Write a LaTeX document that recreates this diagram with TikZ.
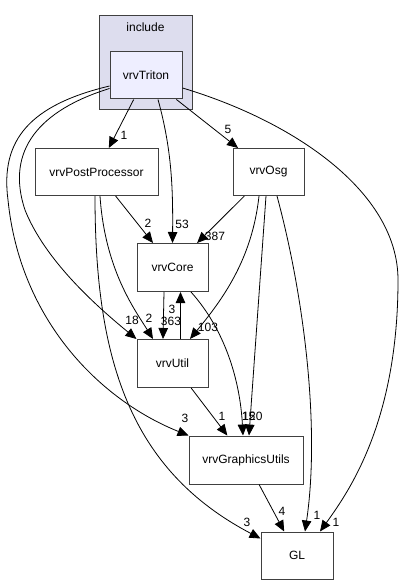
\documentclass[tikz,border=0pt]{standalone}
\usepackage{fontspec}
\setmainfont{Liberation Sans}
\usetikzlibrary{arrows.meta}
\definecolor{clusterfill}{HTML}{DDDDEE}
\definecolor{dirfill}{HTML}{EEEEFF}
\definecolor{boxline}{HTML}{404040}
\tikzset{
  dirbox/.style={draw=boxline, line width=1pt, fill=white, inner sep=0pt,
    minimum width=71pt, minimum height=47pt, font=\fontsize{12}{14}\selectfont},
  dep/.style={draw=black, line width=0.8pt, -{Triangle[length=11pt,width=9.5pt]}},
  cnt/.style={font=\fontsize{12}{14}\selectfont, inner sep=0pt},
}
\begin{document}
\begin{tikzpicture}[x=1pt,y=-1pt]
        \useasboundingbox (0,0) rectangle (403,585);
        \begin{scope}
            % the include folder
            \filldraw[draw=boxline, line width=1pt, fill=clusterfill] (99,16) rectangle (192,110);
            \node[cnt] (inc) at (145.5,27) {include};
            \node[dirbox, fill=dirfill, minimum width=72pt] (tri) at (146,75.5) {vrvTriton};
            \node[dirbox, minimum width=123pt] (pp) at (96.5,172) {vrvPostProcessor};
            \node[dirbox] (osg) at (268.5,172) {vrvOsg};
            \node[dirbox, minimum height=48pt] (core) at (172.5,267.5) {vrvCore};
            \node[dirbox, minimum height=48pt] (util) at (172.5,363.5) {vrvUtil};
            \node[dirbox, minimum width=114pt, minimum height=48pt] (gu) at (246,460) {vrvGraphicsUtils};
            \node[dirbox, minimum width=72pt] (gl) at (297,555.5) {GL};

            % from vrvTriton
            \draw[dep] (tri) -- (pp);
            \draw[dep] (tri) -- (osg);
            \draw[dep] ([xshift=12pt]tri.south) .. controls (172,150) and (173,190) .. (core.north);
            \draw[dep] ([yshift=-12.5pt]tri.east) .. controls (290,120) and (398,190) .. (398,280)
                .. controls (398,420) and (350,490) .. ([xshift=23pt]gl.north);
            \draw[dep] ([yshift=-13pt]tri.west) .. controls (40,110) and (5,150) .. (25,210)
                .. controls (45,260) and (95,305) .. (util.north west);
            \draw[dep] ([yshift=-10.5pt]tri.west) .. controls (30,105) and (0,140) .. (8,200)
                .. controls (20,320) and (100,400) .. (gu.north west);

            % from vrvPostProcessor
            \draw[dep] (pp) -- (core);
            \draw[dep] ([xshift=3.5pt]pp.south) .. controls (105,270) and (135,310) .. ([xshift=-19.5pt]util.north);
            \draw[dep] ([xshift=-1.5pt]pp.south) .. controls (95,360) and (130,470) .. ([yshift=-7pt]gl.north west);

            % from vrvOsg
            \draw[dep] (osg) -- (core);
            \draw[dep] ([xshift=-9.5pt]osg.south) .. controls (252,260) and (222,300) .. ([xshift=17.5pt]util.north);
            \draw[dep] ([xshift=-2.5pt]osg.south) -- ([xshift=3pt]gu.north);
            \draw[dep] ([xshift=8.5pt]osg.south) .. controls (305,300) and (320,430) .. ([xshift=8pt]gl.north);

            % the rest
            \draw[dep] ([xshift=-8.5pt]core.south) -- ([xshift=-9.5pt]util.north);
            \draw[dep] ([xshift=8pt]util.north) -- ([xshift=8pt]core.south);
            \draw[dep] ([xshift=18.5pt]core.south) .. controls (225,330) and (240,380) .. ([xshift=-3pt]gu.north);
            \draw[dep] (util) -- (gu);
            \draw[dep] (gu) -- (gl);

            % counts
            \node[cnt] (n1) at (124,135) {1};
            \node[cnt] (n5) at (228,129) {5};
            \node[cnt] (n2a) at (148,223) {2};
            \node[cnt] (n53) at (182,224) {53};
            \node[cnt] (n387) at (215,236) {387};
            \node[cnt] (n3a) at (172,309) {3};
            \node[cnt] (n18) at (132,320) {18};
            \node[cnt] (n2b) at (149,318) {2};
            \node[cnt] (n363) at (171,321) {363};
            \node[cnt] (n103) at (208,327) {103};
            \node[cnt] (n3b) at (185,418) {3};
            \node[cnt] (n1b) at (222,416) {1};
            \node[cnt] (n15) at (248.5,416) {15};
            \node[cnt] (n120) at (252.5,416) {120};
            \node[cnt] (n4) at (282,511) {4};
            \node[cnt] (n1c) at (317,515) {1};
            \node[cnt] (n1d) at (336,522) {1};
            \node[cnt] (n3c) at (247,522) {3};
        \end{scope}
    \end{tikzpicture}
\end{document}
